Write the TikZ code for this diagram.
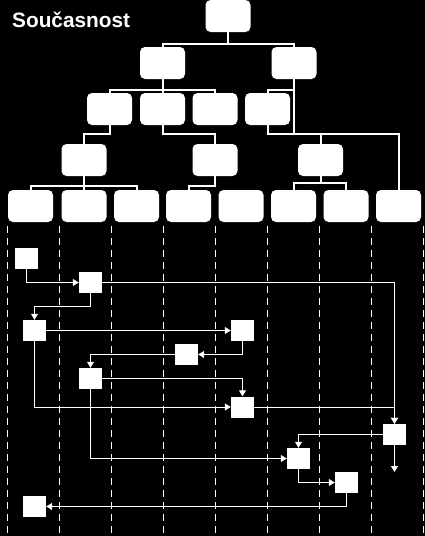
\documentclass[tikz,border=0pt]{standalone}
\usepackage{fontspec}
\setmainfont{Liberation Sans}
\usepackage{tikz}
\usetikzlibrary{arrows.meta}

\begin{document}
\begin{tikzpicture}[x=1pt,y=-1pt,
    tbox/.style={fill=white,rounded corners=5pt,minimum width=45pt,
                 minimum height=32pt,inner sep=0pt},
    pbox/.style={fill=white,minimum width=23pt,minimum height=21pt,inner sep=0pt},
    tline/.style={draw=white,line width=2pt},
    pline/.style={draw=white,line width=1pt,-{Triangle[length=6pt,width=7pt]}},
    dline/.style={draw=white,line width=1pt,dash pattern=on 7pt off 5pt}]
      \fill[black] (0,0) rectangle (425,536);
      \useasboundingbox (0,0) rectangle (425,536);
      \node[anchor=base west,inner sep=0pt,text=white,
            font=\bfseries\fontsize{20.8}{25}\selectfont]
        (title) at (12,27) {Současnost};
      % tree
      \node[tbox] (root) at (228,16) {};
      \node[tbox] (a) at (162.5,63) {};
      \node[tbox] (b) at (294,63) {};
      \node[tbox] (c1) at (109.5,109) {};
      \node[tbox] (c2) at (162.5,109) {};
      \node[tbox] (c3) at (215,109) {};
      \node[tbox] (c4) at (267.5,109) {};
      \node[tbox] (d1) at (84,160) {};
      \node[tbox] (d2) at (215,160) {};
      \node[tbox] (d3) at (320.5,160) {};
      \foreach \i/\x in {1/30.5,2/84,3/136.5,4/188.5,5/241,6/293.5,7/346,8/398.5}
      {
        \node[tbox] (e\i) at (\x,206) {};
      };
      \coordinate (j4) at (294,134);
      \draw[tline] (root.south) -- ++(0,11.5) -| (a.north);
      \draw[tline] (root.south) -- ++(0,11.5) -| (b.north);
      \draw[tline] (a.south) -- ++(0,11) -| (c1.north);
      \draw[tline] (a.south) -- (c2.north);
      \draw[tline] (a.south) -- ++(0,11) -| (c3.north);
      \draw[tline] (b.south) -- ++(0,11) -| (c4.north);
      \draw[tline] (b.south) -- (j4);
      \draw[tline] (c4.south) |- (j4);
      \draw[tline] (j4) -| (d3.north);
      \draw[tline] (j4) -| (e8.north);
      \draw[tline] (c1.south) -- ++(0,9) -| (d1.north);
      \draw[tline] (c2.south) -- ++(0,9) -| (d2.north);
      \draw[tline] (d1.south) -- ++(0,10) -| (e1.north);
      \draw[tline] (d1.south) -- (e2.north);
      \draw[tline] (d1.south) -- ++(0,10) -| (e3.north);
      \draw[tline] (d2.south) -- ++(0,10) -| (e4.north);
      \draw[tline] (d3.south) -- ++(0,7) -| (e6.north);
      \draw[tline] (d3.south) -- ++(0,7) -| (e7.north);
      % lanes
      \foreach \k in {0,1,...,8}
      {
        \draw[dline] (7.5+52*\k,226) -- (7.5+52*\k,536);
      };
      % steps
      \node[pbox] (p1) at (26.5,258.5) {};
      \node[pbox] (p2) at (90.5,282.5) {};
      \node[pbox] (p3) at (34.5,330.5) {};
      \node[pbox] (p4) at (186.5,354.5) {};
      \node[pbox] (p5) at (90.5,378.5) {};
      \node[pbox] (p6) at (34.5,506.5) {};
      \node[pbox] (p7) at (242.5,330.5) {};
      \node[pbox] (p8) at (242.5,407) {};
      \node[pbox] (p9) at (394.5,434.5) {};
      \node[pbox] (p10) at (298.5,458.5) {};
      \node[pbox] (p11) at (346.5,482.5) {};
      \coordinate (out) at (394.5,472);
      \draw[pline] (p1.south) |- (p2.west);
      \draw[pline] (p2.south) -- ++(0,13.5) -| (p3.north);
      \draw[pline] (p2.east) -| (p9.north);
      \draw[pline] (p3.east) -- (p7.west);
      \draw[pline] (p7.south) |- (p4.east);
      \draw[pline] (p4.west) -| (p5.north);
      \draw[pline] (p5.east) -| (p8.north);
      \draw[pline] (p3.south) |- (p8.west);
      \draw[pline] (p8.east) -| (p9.north);
      \draw[pline] (p9.west) -| (p10.north);
      \draw[pline] (p9.south) -- (out);
      \draw[pline] (p5.south) |- (p10.west);
      \draw[pline] (p10.south) |- (p11.west);
      \draw[pline] (p11.south) |- (p6.east);
    \end{tikzpicture}
\end{document}
